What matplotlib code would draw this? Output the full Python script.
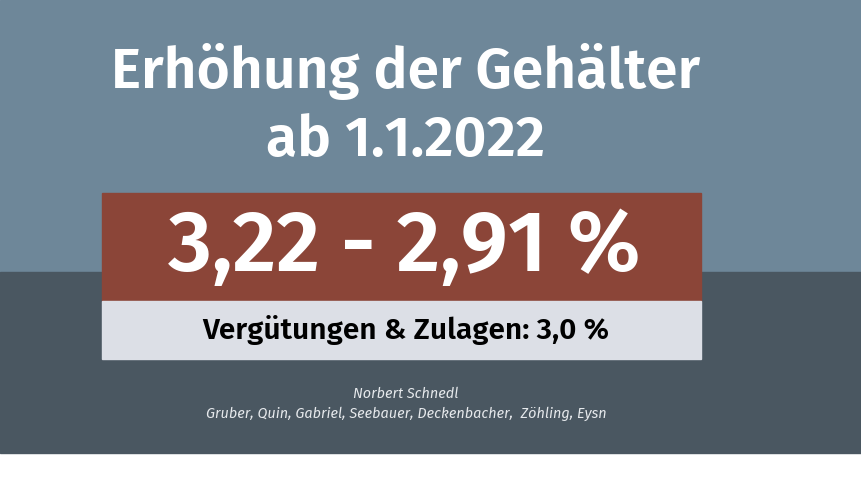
import matplotlib
matplotlib.use("Agg")
import matplotlib.pyplot as plt
from matplotlib.patches import Rectangle

title_lines = ["Erhöhung der Gehälter", "ab 1.1.2022"]
range_values = ["3,22", "2,91"]
allowance_label = "Vergütungen & Zulagen"
allowance_value = "3,0"
authors = ["Norbert Schnedl", "Gruber, Quin, Gabriel, Seebauer, Deckenbacher,  Zöhling, Eysn"]

fig = plt.figure(figsize=(8.62, 4.84), dpi=100)
ax = fig.add_axes([0, 0, 1, 1])
ax.set_xlim(0, 862); ax.set_ylim(484, 0); ax.axis("off")

ax.add_patch(Rectangle((0, 0), 862, 272, color="#6e8799"))
ax.add_patch(Rectangle((0, 272), 862, 181, color="#4a5761"))
ax.add_patch(Rectangle((102, 193), 599, 108, color="#8b4538"))
ax.add_patch(Rectangle((102, 301), 599, 58, color="#dcdfe6"))

fam = ["Fira Sans", "Open Sans", "DejaVu Sans"]
ax.text(406, 72, title_lines[0], ha="center", va="center", color="white", fontsize=41, fontweight="semibold", family=fam)
ax.text(406, 141, title_lines[1], ha="center", va="center", color="white", fontsize=41, fontweight="semibold", family=fam)
ax.text(404, 248, f"{range_values[0]} - {range_values[1]} %", ha="center", va="center", color="white", fontsize=61.5, fontweight="semibold", family=fam)
ax.text(406, 330, f"{allowance_label}: {allowance_value} %", ha="center", va="center", color="black", fontsize=21.5, fontweight="semibold", family=fam)
ax.text(406, 394, authors[0], ha="center", va="center", color="#e6e9ec", fontsize=10.4, style="italic", family=fam)
ax.text(406, 414, authors[1], ha="center", va="center", color="#e6e9ec", fontsize=10.4, style="italic", family=fam)

fig.savefig("out.png", dpi=100)
